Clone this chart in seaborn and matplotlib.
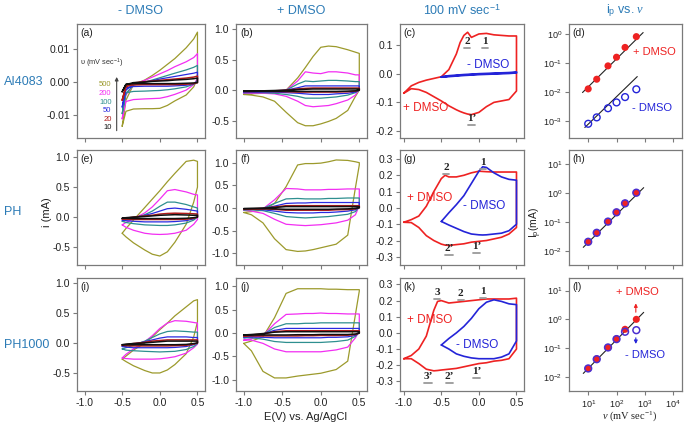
import numpy as np
import seaborn as sns
import matplotlib.pyplot as plt
from matplotlib.ticker import FixedLocator, FormatStrFormatter, FuncFormatter, NullLocator
from matplotlib.transforms import offset_copy

# scan rates (mV/s) and colours used in the CV panels
RATES = [10, 20, 50, 100, 200, 500]
RATE_COLORS = ['#111111', '#b01c1c', '#2a2ae0', '#2e8f8f', '#f22ef2', '#9c9a2c']

# potential grids (V vs Ag/AgCl)
V_SHORT = [-0.5, -0.45, -0.35, -0.2, -0.1, 0.0, 0.1, 0.2, 0.35, 0.45, 0.5]
V_LONG = [-1.0, -0.9, -0.75, -0.6, -0.45, -0.3, -0.2, -0.1, 0.0, 0.1, 0.2, 0.35, 0.45, 0.5]

# (a) AI4083 - DMSO, current (mA), rows ordered as RATES
A_FWD = [
    [-0.003, -0.0008, -0.0002, 0.0, 0.0002, 0.0003, 0.0004, 0.0006, 0.0008, 0.001, 0.0012],
    [-0.0056, -0.0015, -0.0003, 0.0001, 0.0003, 0.0005, 0.0007, 0.0009, 0.0012, 0.0015, 0.0018],
    [-0.0077, -0.0025, -0.0007, 0.0, 0.0004, 0.0009, 0.0013, 0.0017, 0.0023, 0.0027, 0.003],
    [-0.0097, -0.0035, -0.001, 0.0, 0.0006, 0.0013, 0.002, 0.0027, 0.0037, 0.0045, 0.0051],
    [-0.0113, -0.004, -0.0008, 0.0005, 0.0015, 0.0025, 0.0035, 0.0047, 0.0062, 0.0075, 0.0087],
    [-0.0136, -0.0056, -0.0008, 0.0006, 0.002, 0.0036, 0.0054, 0.0072, 0.0105, 0.0132, 0.0153],
]
A_REV = [
    [-0.003, -0.0007, -0.0005, -0.0005, -0.0005, -0.0005, -0.0005, -0.0005, -0.0004, -0.0003, -0.0002],
    [-0.0056, -0.0012, -0.0009, -0.0008, -0.0008, -0.0008, -0.0008, -0.0008, -0.0007, -0.0005, -0.0002],
    [-0.0077, -0.0018, -0.0014, -0.0013, -0.0013, -0.0013, -0.0013, -0.0012, -0.001, -0.0006, 0.0],
    [-0.0097, -0.0033, -0.0029, -0.0028, -0.0027, -0.0026, -0.0024, -0.0021, -0.0015, -0.0007, 0.0005],
    [-0.0113, -0.006, -0.0054, -0.0052, -0.0051, -0.005, -0.0045, -0.0038, -0.0025, -0.0008, 0.001],
    [-0.0136, -0.009, -0.0083, -0.0082, -0.0082, -0.0081, -0.0072, -0.0058, -0.004, -0.0015, 0.001],
]

# (e) PH - DMSO
E_FWD = [
    [-0.02, -0.01, 0.0, 0.01, 0.02, 0.03, 0.035, 0.04, 0.035, 0.03, 0.03],
    [-0.03, -0.02, 0.0, 0.02, 0.03, 0.05, 0.06, 0.065, 0.06, 0.055, 0.05],
    [-0.05, -0.03, -0.01, 0.03, 0.06, 0.1, 0.14, 0.15, 0.13, 0.11, 0.1],
    [-0.07, -0.05, -0.02, 0.04, 0.1, 0.18, 0.25, 0.25, 0.21, 0.17, 0.15],
    [-0.13, -0.09, -0.03, 0.07, 0.17, 0.3, 0.44, 0.46, 0.42, 0.38, 0.37],
    [-0.27, -0.19, -0.05, 0.16, 0.3, 0.44, 0.59, 0.73, 0.93, 0.95, 0.93],
]
E_REV = [
    [-0.02, -0.02, -0.025, -0.025, -0.025, -0.025, -0.025, -0.025, -0.02, -0.01, 0.0],
    [-0.03, -0.035, -0.04, -0.04, -0.04, -0.04, -0.04, -0.04, -0.035, -0.02, 0.0],
    [-0.05, -0.06, -0.07, -0.08, -0.08, -0.08, -0.08, -0.075, -0.06, -0.03, 0.0],
    [-0.07, -0.09, -0.11, -0.13, -0.135, -0.14, -0.14, -0.13, -0.1, -0.05, 0.0],
    [-0.13, -0.17, -0.22, -0.27, -0.285, -0.29, -0.285, -0.27, -0.22, -0.12, -0.04],
    [-0.27, -0.33, -0.43, -0.55, -0.62, -0.65, -0.58, -0.42, -0.12, 0.25, 0.5],
]

# (i) PH1000 - DMSO
I_FWD = [
    [-0.03, -0.02, -0.01, 0.0, 0.01, 0.02, 0.03, 0.03, 0.03, 0.03, 0.03],
    [-0.04, -0.03, -0.01, 0.01, 0.03, 0.04, 0.05, 0.05, 0.05, 0.05, 0.05],
    [-0.06, -0.05, -0.02, 0.02, 0.05, 0.08, 0.1, 0.1, 0.1, 0.09, 0.09],
    [-0.1, -0.08, -0.04, 0.03, 0.09, 0.15, 0.19, 0.2, 0.19, 0.18, 0.18],
    [-0.25, -0.19, -0.1, 0.02, 0.12, 0.24, 0.33, 0.37, 0.36, 0.34, 0.33],
    [-0.27, -0.22, -0.12, 0.0, 0.1, 0.22, 0.33, 0.45, 0.6, 0.7, 0.72],
]
I_REV = [
    [-0.03, -0.03, -0.03, -0.03, -0.03, -0.03, -0.03, -0.03, -0.025, -0.01, 0.0],
    [-0.04, -0.045, -0.05, -0.05, -0.05, -0.05, -0.05, -0.045, -0.04, -0.02, 0.0],
    [-0.06, -0.07, -0.08, -0.08, -0.08, -0.08, -0.08, -0.075, -0.06, -0.03, 0.0],
    [-0.1, -0.12, -0.13, -0.14, -0.145, -0.15, -0.145, -0.14, -0.11, -0.06, -0.01],
    [-0.25, -0.26, -0.27, -0.27, -0.27, -0.265, -0.25, -0.23, -0.17, -0.08, -0.02],
    [-0.27, -0.31, -0.38, -0.46, -0.5, -0.5, -0.45, -0.36, -0.18, 0.1, 0.35],
]

# (b) AI4083 + DMSO
B_FWD = [
    [-0.015, -0.015, -0.01, -0.005, 0.0, 0.01, 0.015, 0.02, 0.02, 0.02, 0.02, 0.02, 0.02, 0.02],
    [-0.02, -0.02, -0.015, -0.01, 0.0, 0.02, 0.03, 0.035, 0.035, 0.035, 0.035, 0.035, 0.035, 0.035],
    [-0.03, -0.03, -0.02, -0.01, 0.0, 0.04, 0.07, 0.07, 0.07, 0.07, 0.07, 0.07, 0.07, 0.07],
    [-0.04, -0.035, -0.03, -0.02, 0.0, 0.1, 0.15, 0.14, 0.15, 0.16, 0.16, 0.15, 0.14, 0.14],
    [-0.05, -0.04, -0.03, -0.02, 0.0, 0.15, 0.3, 0.28, 0.27, 0.3, 0.3, 0.28, 0.25, 0.25],
    [-0.07, -0.06, -0.05, -0.04, 0.0, 0.2, 0.37, 0.55, 0.7, 0.72, 0.71, 0.66, 0.62, 0.6],
]
B_REV = [
    [-0.015, -0.015, -0.015, -0.015, -0.015, -0.02, -0.02, -0.02, -0.02, -0.02, -0.02, -0.015, -0.01, 0.0],
    [-0.02, -0.02, -0.02, -0.02, -0.025, -0.03, -0.03, -0.03, -0.03, -0.03, -0.03, -0.025, -0.015, 0.0],
    [-0.03, -0.03, -0.03, -0.03, -0.04, -0.05, -0.06, -0.07, -0.07, -0.07, -0.06, -0.05, -0.03, 0.0],
    [-0.04, -0.04, -0.04, -0.05, -0.07, -0.1, -0.13, -0.13, -0.13, -0.12, -0.11, -0.08, -0.04, 0.0],
    [-0.05, -0.05, -0.05, -0.06, -0.1, -0.18, -0.25, -0.27, -0.26, -0.25, -0.22, -0.16, -0.08, 0.02],
    [-0.07, -0.08, -0.11, -0.18, -0.36, -0.53, -0.58, -0.58, -0.55, -0.51, -0.46, -0.33, -0.1, 0.0],
]

# (f) PH + DMSO
F_FWD = [
    [-0.015, -0.01, -0.005, 0.01, 0.03, 0.03, 0.03, 0.03, 0.03, 0.03, 0.03, 0.03, 0.03, 0.03],
    [-0.02, -0.02, -0.01, 0.02, 0.05, 0.05, 0.05, 0.05, 0.05, 0.05, 0.05, 0.05, 0.05, 0.05],
    [-0.03, -0.02, -0.01, 0.04, 0.1, 0.11, 0.11, 0.12, 0.12, 0.12, 0.12, 0.12, 0.12, 0.12],
    [-0.04, -0.03, -0.01, 0.1, 0.2, 0.21, 0.2, 0.2, 0.2, 0.21, 0.21, 0.22, 0.22, 0.22],
    [-0.05, -0.04, -0.02, 0.18, 0.43, 0.42, 0.4, 0.4, 0.4, 0.41, 0.41, 0.42, 0.42, 0.42],
    [-0.1, -0.08, -0.05, 0.1, 0.47, 0.95, 0.98, 0.98, 0.99, 1.02, 1.06, 1.05, 1.02, 1.0],
]
F_REV = [
    [-0.015, -0.015, -0.015, -0.02, -0.03, -0.03, -0.03, -0.03, -0.03, -0.03, -0.025, -0.02, -0.01, 0.0],
    [-0.02, -0.02, -0.02, -0.03, -0.05, -0.05, -0.05, -0.05, -0.05, -0.05, -0.04, -0.035, -0.02, 0.01],
    [-0.03, -0.03, -0.04, -0.07, -0.1, -0.11, -0.11, -0.11, -0.1, -0.1, -0.09, -0.07, -0.04, 0.02],
    [-0.04, -0.04, -0.06, -0.12, -0.19, -0.21, -0.22, -0.21, -0.2, -0.19, -0.17, -0.14, -0.08, 0.03],
    [-0.05, -0.07, -0.12, -0.25, -0.36, -0.38, -0.39, -0.38, -0.37, -0.35, -0.33, -0.27, -0.15, 0.05],
    [-0.1, -0.15, -0.33, -0.68, -0.92, -0.96, -0.95, -0.92, -0.88, -0.84, -0.8, -0.6, 0.45, 0.95],
]

# (j) PH1000 + DMSO
J_FWD = [
    [-0.04, -0.03, -0.01, 0.02, 0.03, 0.03, 0.03, 0.03, 0.03, 0.03, 0.03, 0.03, 0.03, 0.03],
    [-0.06, -0.04, -0.02, 0.03, 0.05, 0.05, 0.05, 0.05, 0.05, 0.05, 0.05, 0.05, 0.05, 0.05],
    [-0.08, -0.06, -0.02, 0.06, 0.1, 0.1, 0.1, 0.1, 0.1, 0.1, 0.1, 0.1, 0.1, 0.1],
    [-0.1, -0.08, -0.03, 0.12, 0.2, 0.2, 0.21, 0.21, 0.22, 0.22, 0.22, 0.22, 0.22, 0.22],
    [-0.15, -0.12, -0.05, 0.2, 0.4, 0.41, 0.42, 0.42, 0.43, 0.42, 0.42, 0.41, 0.41, 0.41],
    [-0.22, -0.17, -0.08, 0.33, 0.85, 0.95, 0.95, 0.95, 0.95, 0.94, 0.94, 0.93, 0.93, 0.93],
]
J_REV = [
    [-0.04, -0.04, -0.04, -0.04, -0.04, -0.035, -0.035, -0.035, -0.03, -0.03, -0.03, -0.03, -0.02, 0.0],
    [-0.06, -0.06, -0.06, -0.06, -0.06, -0.06, -0.055, -0.055, -0.05, -0.05, -0.05, -0.045, -0.03, 0.0],
    [-0.08, -0.08, -0.09, -0.1, -0.1, -0.1, -0.1, -0.1, -0.1, -0.09, -0.09, -0.08, -0.05, 0.01],
    [-0.1, -0.1, -0.13, -0.18, -0.2, -0.2, -0.2, -0.2, -0.2, -0.19, -0.18, -0.15, -0.07, 0.02],
    [-0.15, -0.15, -0.22, -0.34, -0.4, -0.4, -0.4, -0.4, -0.4, -0.38, -0.36, -0.3, -0.1, 0.05],
    [-0.22, -0.38, -0.82, -0.96, -0.96, -0.92, -0.9, -0.88, -0.86, -0.82, -0.78, -0.6, 0.4, 0.9],
]

# (c) AI4083 at 100 mV/s
C_V_RED = [-1.0, -0.9, -0.8, -0.7, -0.6, -0.5, -0.4, -0.3, -0.25, -0.2, -0.15, -0.1, 0.0, 0.1, 0.2, 0.3, 0.4, 0.5]
C_RED_FWD = [-0.068, -0.042, -0.03, -0.022, -0.016, -0.01, 0.015, 0.07, 0.11, 0.135, 0.146, 0.128, 0.14, 0.142, 0.137, 0.135, 0.133, 0.133]
C_RED_REV = [-0.068, -0.052, -0.055, -0.065, -0.08, -0.095, -0.112, -0.126, -0.132, -0.137, -0.141, -0.143, -0.135, -0.115, -0.1, -0.095, -0.09, -0.06]
C_V_BLUE = [-0.5, -0.4, -0.2, 0.0, 0.2, 0.4, 0.5]
C_BLUE_FWD = [-0.011, -0.007, -0.003, 0.0, 0.002, 0.004, 0.006]
C_BLUE_REV = [-0.011, -0.009, -0.005, -0.002, 0.0, 0.002, 0.004]

# (g) PH at 100 mV/s
G_V_RED = [-1.0, -0.9, -0.8, -0.7, -0.6, -0.5, -0.45, -0.4, -0.3, -0.2, -0.1, 0.0, 0.1, 0.2, 0.3, 0.4, 0.5]
G_RED_FWD = [-0.088, -0.072, -0.05, 0.01, 0.1, 0.18, 0.2, 0.19, 0.19, 0.2, 0.215, 0.225, 0.222, 0.22, 0.22, 0.22, 0.22]
G_RED_REV = [-0.088, -0.09, -0.12, -0.17, -0.2, -0.222, -0.228, -0.23, -0.225, -0.22, -0.21, -0.205, -0.2, -0.19, -0.18, -0.16, -0.12]
G_V_BLUE = [-0.5, -0.4, -0.3, -0.2, -0.1, 0.0, 0.05, 0.1, 0.2, 0.3, 0.4, 0.5]
G_BLUE_FWD = [-0.083, -0.03, 0.02, 0.075, 0.15, 0.225, 0.252, 0.248, 0.215, 0.19, 0.175, 0.17]
G_BLUE_REV = [-0.083, -0.105, -0.125, -0.145, -0.16, -0.165, -0.166, -0.165, -0.16, -0.155, -0.14, -0.1]

# (k) PH1000 at 100 mV/s
K_V_RED = [-1.0, -0.9, -0.8, -0.7, -0.6, -0.55, -0.5, -0.4, -0.3, -0.2, -0.1, 0.0, 0.1, 0.2, 0.3, 0.4, 0.5]
K_RED_FWD = [-0.16, -0.14, -0.1, -0.02, 0.14, 0.195, 0.2, 0.185, 0.19, 0.195, 0.2, 0.205, 0.21, 0.21, 0.21, 0.21, 0.215]
K_RED_REV = [-0.16, -0.16, -0.19, -0.225, -0.235, -0.233, -0.23, -0.225, -0.22, -0.21, -0.2, -0.19, -0.185, -0.175, -0.17, -0.16, -0.1]
K_V_BLUE = [-0.5, -0.4, -0.3, -0.2, -0.1, 0.0, 0.1, 0.2, 0.3, 0.4, 0.5]
K_BLUE_FWD = [-0.075, -0.035, 0.0, 0.04, 0.09, 0.15, 0.19, 0.205, 0.195, 0.18, 0.175]
K_BLUE_REV = [-0.075, -0.1, -0.13, -0.145, -0.155, -0.16, -0.16, -0.16, -0.15, -0.13, -0.05]

# peak current vs scan rate (mA)
D_PLUS = [0.0127, 0.0275, 0.08, 0.16, 0.35, 0.83]
D_MINUS = [0.00078, 0.0013, 0.0027, 0.0043, 0.0066, 0.0123]
H_PLUS = [0.021, 0.043, 0.105, 0.22, 0.45, 1.05]
H_MINUS = [0.021, 0.043, 0.105, 0.22, 0.45, 1.05]
L_PLUS = [0.0195, 0.042, 0.105, 0.21, 0.45, 1.0]
L_MINUS = [0.0195, 0.041, 0.105, 0.205, 0.37, 0.42]
# fitted guide lines (end points)
D_FIT_PLUS_X, D_FIT_PLUS_Y = [6.3, 870], [0.0095, 1.15]
D_FIT_MINUS_X, D_FIT_MINUS_Y = [7.6, 540], [0.00058, 0.034]
H_FIT_X, H_FIT_Y = [6.7, 910], [0.0135, 1.57]
L_FIT_X, L_FIT_Y = [6.7, 910], [0.0131, 1.75]

TITLE_BLUE = '#2c7bb6'
RED = '#ee2222'
BLUE = '#2424d8'

sns.set_style('ticks')
plt.rcParams['font.family'] = ['Liberation Sans', 'DejaVu Sans']
plt.rcParams['mathtext.fontset'] = 'custom'
plt.rcParams['mathtext.rm'] = 'Liberation Sans'
plt.rcParams['mathtext.it'] = 'Liberation Serif:italic'
plt.rcParams['mathtext.bf'] = 'Liberation Sans:bold'
plt.rcParams['axes.unicode_minus'] = False

fig = plt.figure(figsize=(6.85, 4.25), dpi=100)
W, H = 685, 425
COL_X = [77, 236, 400, 569]
COL_W = [128, 131, 124, 113]
ROW_TOP = [24, 150, 278]
ROW_H = [114, 115, 113]

axes = [[fig.add_axes([COL_X[c] / W, 1 - (ROW_TOP[r] + ROW_H[r]) / H, COL_W[c] / W, ROW_H[r] / H])
         for c in range(4)] for r in range(3)]


def cv_loop(ax, v, fwd, rev, color, lw=0.9):
    x = list(v) + list(v)[::-1]
    y = list(fwd) + list(rev)[::-1]
    sns.lineplot(x=x, y=y, sort=False, estimator=None, color=color, lw=lw, ax=ax)


def peak_label(ax, x, y, s, half=0.04):
    ax.text(x, y, s, ha='center', va='center', fontsize=8, fontweight='bold',
            family='Liberation Serif', color='#222222')
    tr = offset_copy(ax.transData, fig=fig, y=-4.6, units='points')
    ax.plot([x - half, x + half], [y, y], color='#9a9a9a', lw=1.3, transform=tr)


def style(ax):
    for sp in ax.spines.values():
        sp.set_color('#7a7a7a')
        sp.set_linewidth(0.9)
    ax.tick_params(direction='out', length=3, width=0.8, color='#7a7a7a',
                   labelsize=7.5, pad=2, labelcolor='#222222')
    ax.set_xlabel('')
    ax.set_ylabel('')


# CV panels at all scan rates
cv_sets = [(0, 0, V_SHORT, A_FWD, A_REV), (1, 0, V_SHORT, E_FWD, E_REV), (2, 0, V_SHORT, I_FWD, I_REV),
           (0, 1, V_LONG, B_FWD, B_REV), (1, 1, V_LONG, F_FWD, F_REV), (2, 1, V_LONG, J_FWD, J_REV)]
for r, c, v, fwd, rev in cv_sets:
    ax = axes[r][c]
    for k in range(len(RATES) - 1, -1, -1):
        cv_loop(ax, v, fwd[k], rev[k], RATE_COLORS[k], lw=1.1 if k < 2 else 0.9)

# 100 mV/s comparison panels
for r, vr, rf, rr, vb, bf, br in [(0, C_V_RED, C_RED_FWD, C_RED_REV, C_V_BLUE, C_BLUE_FWD, C_BLUE_REV),
                                  (1, G_V_RED, G_RED_FWD, G_RED_REV, G_V_BLUE, G_BLUE_FWD, G_BLUE_REV),
                                  (2, K_V_RED, K_RED_FWD, K_RED_REV, K_V_BLUE, K_BLUE_FWD, K_BLUE_REV)]:
    ax = axes[r][2]
    cv_loop(ax, vr, rf, rr, RED, lw=1.2)
    cv_loop(ax, vb, bf, br, BLUE, lw=1.5 if r == 0 else 1.2)

# peak current panels
for r, plus, minus in [(0, D_PLUS, D_MINUS), (1, H_PLUS, H_MINUS), (2, L_PLUS, L_MINUS)]:
    ax = axes[r][3]
    ax.set_xscale('log')
    ax.set_yscale('log')
    if r == 0:
        sns.lineplot(x=D_FIT_PLUS_X, y=D_FIT_PLUS_Y, color='#222222', lw=0.8, ax=ax)
        sns.lineplot(x=D_FIT_MINUS_X, y=D_FIT_MINUS_Y, color='#222222', lw=0.8, ax=ax)
        sns.scatterplot(x=RATES, y=plus, color=RED, s=26, edgecolor='none', ax=ax, zorder=3)
        sns.scatterplot(x=RATES, y=minus, facecolor='none', edgecolor=BLUE, linewidth=1.0,
                        s=24, ax=ax, zorder=3)
    else:
        fx, fy = (H_FIT_X, H_FIT_Y) if r == 1 else (L_FIT_X, L_FIT_Y)
        sns.lineplot(x=fx, y=fy, color='#222222', lw=0.8, ax=ax)
        sns.scatterplot(x=RATES, y=plus, color=RED, s=26, edgecolor='none', ax=ax, zorder=3)
        sns.scatterplot(x=RATES, y=minus, facecolor='none', edgecolor='#4b2fd0', linewidth=1.1,
                        s=24, ax=ax, zorder=4)

# axis limits and ticks
CV_YLIM = [[(-0.0172, 0.0178), (-0.78, 1.08), (-0.225, 0.175)],
           [(-0.8, 1.12), (-1.26, 1.28), (-0.35, 0.355)],
           [(-0.8, 1.08), (-1.24, 1.18), (-0.36, 0.34)]]
CV_YTICKS = [[[-0.01, 0.0, 0.01], [-0.5, 0.0, 0.5, 1.0], [-0.2, -0.1, 0.0, 0.1]],
             [[-0.5, 0.0, 0.5, 1.0], [-1.0, -0.5, 0.0, 0.5, 1.0], [-0.3, -0.2, -0.1, 0.0, 0.1, 0.2, 0.3]],
             [[-0.5, 0.0, 0.5, 1.0], [-1.0, -0.5, 0.0, 0.5, 1.0], [-0.3, -0.2, -0.1, 0.0, 0.1, 0.2, 0.3]]]
LOG_YLIM = [(2.5e-4, 2.28), (3.3e-3, 31.6), (3.2e-3, 27.5)]
LOG_YTICKS = [[1e-3, 1e-2, 1e-1, 1e0], [1e-2, 1e-1, 1e0, 1e1], [1e-2, 1e-1, 1e0, 1e1]]
log_fmt = FuncFormatter(lambda v, p: r'$\mathregular{10^{%d}}$' % int(round(np.log10(v))))
letters = 'abcdefghijkl'

for r in range(3):
    for c in range(4):
        ax = axes[r][c]
        style(ax)
        if c < 3:
            ax.set_xlim(-1.1, 0.6) if c < 2 else ax.set_xlim(-1.05, 0.6)
            ax.xaxis.set_major_locator(FixedLocator([-1.0, -0.5, 0.0, 0.5]))
            ax.xaxis.set_major_formatter(FormatStrFormatter('%.1f'))
            ax.set_ylim(*CV_YLIM[r][c])
            ax.yaxis.set_major_locator(FixedLocator(CV_YTICKS[r][c]))
            ax.yaxis.set_major_formatter(FormatStrFormatter('%.2f' if (r, c) == (0, 0) else '%.1f'))
        else:
            ax.set_xlim(2.1, 2.05e4)
            ax.set_ylim(*LOG_YLIM[r])
            ax.xaxis.set_major_locator(FixedLocator([1e1, 1e2, 1e3, 1e4]))
            ax.yaxis.set_major_locator(FixedLocator(LOG_YTICKS[r]))
            ax.xaxis.set_minor_locator(NullLocator())
            ax.yaxis.set_minor_locator(NullLocator())
            ax.xaxis.set_major_formatter(log_fmt)
            ax.yaxis.set_major_formatter(log_fmt)
            ax.tick_params(labelsize=6.5)
        if r < 2:
            ax.tick_params(axis='x', labelbottom=False)
        ax.text(0.03, 0.965, '(%s)' % letters[r * 4 + c], transform=ax.transAxes,
                ha='left', va='top', fontsize=7.5, color='#222222')

# scan-rate key in (a)
ax = axes[0][0]
ax.text(0.02, 0.66, 'υ (mV sec$^{\\mathregular{-1}}$)', transform=ax.transAxes, fontsize=5.3,
        ha='left', va='center', color='#333333')
for k, yf in zip(range(5, -1, -1), [0.465, 0.39, 0.315, 0.24, 0.165, 0.09]):
    ax.text(0.27, yf, str(RATES[k]), transform=ax.transAxes, fontsize=5.5, ha='right', va='center',
            color=RATE_COLORS[k])
ax.annotate('', xy=(0.31, 0.56), xytext=(0.31, 0.04), xycoords='axes fraction',
            arrowprops=dict(arrowstyle='-|>', color='#444444', lw=0.8, mutation_scale=5))

# labels in the 100 mV/s panels
ax = axes[0][2]
peak_label(ax, -0.154, 0.1135, '2')
peak_label(ax, 0.079, 0.1135, '1')
peak_label(ax, -0.097, -0.156, '1’', half=0.05)
ax.text(0.123, 0.032, '- DMSO', color=BLUE, fontsize=8.5, ha='center', va='center')
ax.text(-0.71, -0.12, '+ DMSO', color=RED, fontsize=8.5, ha='center', va='center')

ax = axes[1][2]
peak_label(ax, -0.44, 0.25, '2')
peak_label(ax, 0.05, 0.278, '1')
peak_label(ax, -0.40, -0.248, '2’', half=0.05)
peak_label(ax, -0.03, -0.238, '1’', half=0.05)
ax.text(-0.65, 0.061, '+ DMSO', color=RED, fontsize=8.5, ha='center', va='center')
ax.text(0.07, 0.01, '- DMSO', color=BLUE, fontsize=8.5, ha='center', va='center')

ax = axes[2][2]
peak_label(ax, -0.555, 0.25, '3')
peak_label(ax, -0.243, 0.242, '2')
peak_label(ax, 0.055, 0.257, '1')
peak_label(ax, -0.68, -0.271, '3’', half=0.05)
peak_label(ax, -0.39, -0.271, '2’', half=0.05)
peak_label(ax, -0.034, -0.242, '1’', half=0.05)
ax.text(-0.657, 0.078, '+ DMSO', color=RED, fontsize=8.5, ha='center', va='center')
ax.text(-0.025, -0.072, '- DMSO', color=BLUE, fontsize=8.5, ha='center', va='center')

# labels in the peak-current panels
ax = axes[0][3]
ax.text(2240, 0.25, '+ DMSO', color=RED, fontsize=8, ha='center', va='center')
ax.text(1730, 0.0027, '- DMSO', color=BLUE, fontsize=8, ha='center', va='center')
ax = axes[2][3]
ax.text(537, 9.2, '+ DMSO', color=RED, fontsize=8, ha='center', va='center')
ax.text(1000, 0.057, '- DMSO', color=BLUE, fontsize=8, ha='center', va='center')
ax.annotate('', xy=(480, 4.5), xytext=(480, 1.42),
            arrowprops=dict(arrowstyle='-|>', color=RED, lw=0.8, mutation_scale=5))
ax.annotate('', xy=(480, 0.111), xytext=(480, 0.284),
            arrowprops=dict(arrowstyle='-|>', color=BLUE, lw=0.8, mutation_scale=5))

# column titles, row names and axis labels
for c, s in enumerate(['- DMSO', '+ DMSO', '100 mV sec$^{\\mathregular{-1}}$',
                       'i$_{\\mathregular{p}}$ vs. $\\nu$']):
    fig.text((COL_X[c] + COL_W[c] / 2) / W, 1 - 11 / H, s, ha='center', va='center',
             color=TITLE_BLUE, fontsize=9)
for s, y in [('AI4083', 82), ('PH', 212), ('PH1000', 345)]:
    fig.text(4 / W, 1 - y / H, s, ha='left', va='center', color=TITLE_BLUE, fontsize=9)
fig.text(47 / W, 1 - 212 / H, 'i (mA)', rotation=90, ha='center', va='center', fontsize=8,
         color='#222222')
fig.text(536 / W, 1 - 222 / H, 'I$_{\\mathregular{p}}$(mA)', rotation=90, ha='center', va='center',
         fontsize=7.5, color='#222222')
fig.text(305 / W, 1 - 417 / H, 'E(V) vs. Ag/AgCl', ha='center', va='center', fontsize=8,
         color='#222222')
fig.text(630 / W, 1 - 416.5 / H, '$\\nu$ (mV sec$^{\\mathregular{-1}}$)', ha='center', va='center',
         fontsize=7.5, family='Liberation Serif', color='#222222')

fig.savefig('out.png', dpi=100)
